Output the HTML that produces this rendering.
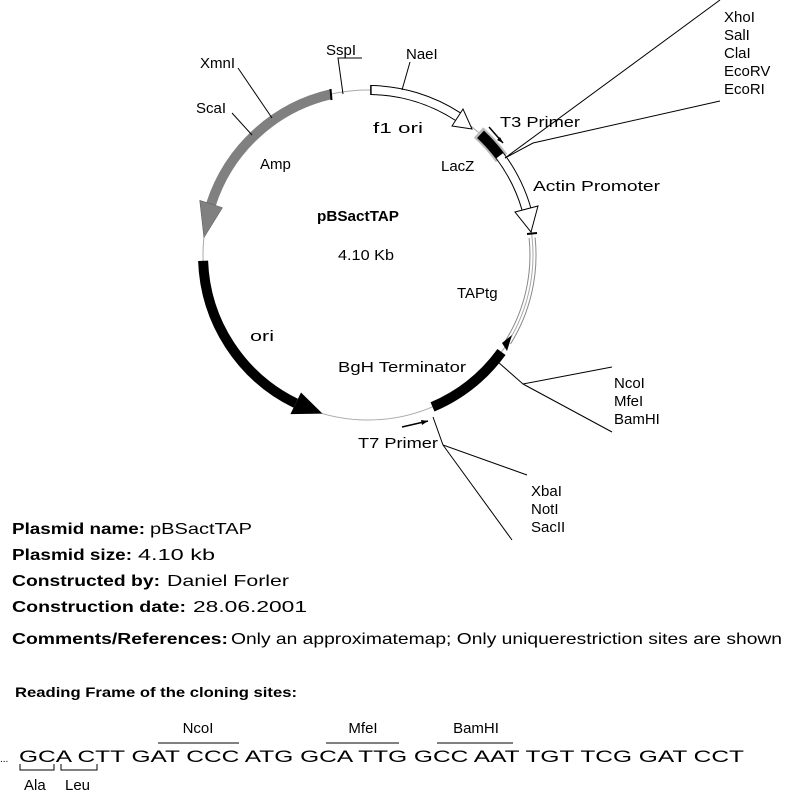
<!DOCTYPE html>
<html><head><meta charset="utf-8"><style>
html,body{margin:0;padding:0;background:#fff;}
svg{display:block;font-family:"Liberation Sans",sans-serif;}
</style></head><body>
<svg width="788" height="798" viewBox="0 0 788 798" xmlns="http://www.w3.org/2000/svg">
<g fill="none">
<circle cx="368" cy="255" r="165" stroke="#aaa" stroke-width="1"/>
<path d="M330.9,94.3 A165,165 0 0 0 211.1,204.0" stroke="#808080" stroke-width="10"/>
<line x1="330.5" y1="89" x2="331.5" y2="100" stroke="#000" stroke-width="2"/>
<path d="M203.1,260.8 A165,165 0 0 0 295.7,403.3" stroke="#000" stroke-width="10"/>
<path d="M370.9,90.0 A165,165 0 0 1 457.9,116.6" stroke="#000" stroke-width="10"/>
<path d="M370.9,90.0 A165,165 0 0 1 457.9,116.6" stroke="#fff" stroke-width="8"/>
<line x1="370.9" y1="85" x2="370.9" y2="95" stroke="#000" stroke-width="1.5"/>
<path d="M478.5,132.5 A165,165 0 0 1 501.5,158" stroke="#bbb" stroke-width="14"/>
<path d="M480.5,134.3 A165,165 0 0 1 499.8,155.7" stroke="#000" stroke-width="10"/>
<path d="M499.8,155.7 A165,165 0 0 1 526.6,209.5" stroke="#000" stroke-width="10"/>
<path d="M499.8,155.7 A165,165 0 0 1 526.6,209.5" stroke="#fff" stroke-width="8"/>
<path d="M529.1,238.1 A162,162 0 0 1 505.4,340.8" stroke="#888" stroke-width="1"/>
<path d="M535.1,237.4 A168,168 0 0 1 510.5,344.0" stroke="#888" stroke-width="1"/>
<line x1="527" y1="234" x2="537" y2="233" stroke="#000" stroke-width="2"/>
<path d="M501.5,352.0 A165,165 0 0 1 432.5,406.9" stroke="#000" stroke-width="10"/>
</g>
<polygon points="222.5,207.7 199.7,200.3 203.9,237.8" fill="#808080" stroke="#555" stroke-width="0.5"/>
<polygon points="301.0,392.5 290.4,414.1 322.5,413.6" fill="#000"/>
<polygon points="452,126 463,109 472,129" fill="#fff" stroke="#000" stroke-width="1"/>
<polygon points="515,212 538,206 531,232" fill="#fff" stroke="#000" stroke-width="1"/>
<polygon points="502,343 512,335 507,351" fill="#000"/>
<line x1="489" y1="127" x2="503" y2="143" stroke="#000" stroke-width="1.5"/>
<polygon points="503,143 497,140 500,137" fill="#000"/>
<line x1="402" y1="427" x2="428" y2="421" stroke="#000" stroke-width="1.5"/>
<polygon points="428,421 421,420 422,425" fill="#000"/>
<g stroke="#000" stroke-width="1" fill="none">
<polyline points="505,158 720,0"/>
<polyline points="505,158 533,143 720,101"/>
<polyline points="498,362 523,384 612,367"/>
<polyline points="523,384 612,432"/>
<polyline points="433,417 443,445 527,475"/>
<polyline points="443,445 512,540"/>
<polyline points="238,68 272,118"/>
<polyline points="232,113 252,135"/>
<polyline points="343,94 338,58 362,58"/>
<polyline points="402,90 410,62"/>
</g>
<g font-size="15" fill="#000" lengthAdjust="spacingAndGlyphs">
<text x="200" y="68">XmnI</text>
<text x="196" y="113">ScaI</text>
<text x="326" y="55">SspI</text>
<text x="406" y="59">NaeI</text>
<text x="373" y="133" textLength="50" lengthAdjust="spacingAndGlyphs">f1  ori</text>
<text x="260" y="169">Amp</text>
<text x="441" y="171">LacZ</text>
<text x="500" y="127" textLength="80" lengthAdjust="spacingAndGlyphs">T3 Primer</text>
<text x="533" y="191" textLength="127" lengthAdjust="spacingAndGlyphs">Actin  Promoter</text>
<text x="317" y="221" font-weight="bold" textLength="82" lengthAdjust="spacingAndGlyphs">pBSactTAP</text>
<text x="338" y="260" textLength="56" lengthAdjust="spacingAndGlyphs">4.10  Kb</text>
<text x="457" y="298">TAPtg</text>
<text x="250" y="341" textLength="24" lengthAdjust="spacingAndGlyphs">ori</text>
<text x="338" y="372" textLength="128" lengthAdjust="spacingAndGlyphs">BgH  Terminator</text>
<text x="358" y="448" textLength="80" lengthAdjust="spacingAndGlyphs">T7 Primer</text>
<text x="614" y="388">NcoI</text>
<text x="614" y="406">MfeI</text>
<text x="614" y="424">BamHI</text>
<text x="531" y="496">XbaI</text>
<text x="531" y="514">NotI</text>
<text x="531" y="532">SacII</text>
<text x="724" y="22">XhoI</text>
<text x="724" y="40">SalI</text>
<text x="724" y="58">ClaI</text>
<text x="724" y="76">EcoRV</text>
<text x="724" y="94">EcoRI</text>
</g>
<g font-size="16" fill="#000">
<text x="12" y="534" font-weight="bold" textLength="133" lengthAdjust="spacingAndGlyphs">Plasmid name:</text>
<text x="150" y="534" textLength="102" lengthAdjust="spacingAndGlyphs">pBSactTAP</text>
<text x="12" y="560" font-weight="bold" textLength="120" lengthAdjust="spacingAndGlyphs">Plasmid size:</text>
<text x="138" y="560" textLength="77" lengthAdjust="spacingAndGlyphs">4.10  kb</text>
<text x="12" y="586" font-weight="bold" textLength="148" lengthAdjust="spacingAndGlyphs">Constructed by:</text>
<text x="167" y="586" textLength="122" lengthAdjust="spacingAndGlyphs">Daniel  Forler</text>
<text x="12" y="612" font-weight="bold" textLength="174" lengthAdjust="spacingAndGlyphs">Construction date:</text>
<text x="193" y="612" textLength="114" lengthAdjust="spacingAndGlyphs">28.06.2001</text>
<text x="12" y="644" font-weight="bold" textLength="216" lengthAdjust="spacingAndGlyphs">Comments/References:</text>
<text x="231" y="644" textLength="551" lengthAdjust="spacingAndGlyphs">Only an approximatemap; Only uniquerestriction sites are shown</text>
<text x="15" y="697" font-weight="bold" font-size="14" textLength="282" lengthAdjust="spacingAndGlyphs">Reading Frame of the cloning sites:</text>
</g>
<g font-size="17" fill="#000">
<text x="0" y="762" font-size="10">...</text>
<text x="19" y="762" textLength="725" lengthAdjust="spacingAndGlyphs">GCA CTT GAT CCC ATG GCA TTG GCC AAT TGT TCG GAT CCT</text>
<text x="198" y="733" text-anchor="middle" font-size="15">NcoI</text>
<text x="363" y="733" text-anchor="middle" font-size="15">MfeI</text>
<text x="476" y="733" text-anchor="middle" font-size="15">BamHI</text>
<text x="24" y="790" font-size="15">Ala</text>
<text x="65" y="790" font-size="15">Leu</text>
</g>
<g stroke="#000" stroke-width="1" fill="none">
<line x1="158" y1="743" x2="239" y2="743"/>
<line x1="326" y1="743" x2="399" y2="743"/>
<line x1="437" y1="743" x2="513" y2="743"/>
<polyline points="20,764 20,770 54,770 54,764"/>
<polyline points="61,764 61,770 97,770 97,764"/>
</g>
</svg>
</body></html>
